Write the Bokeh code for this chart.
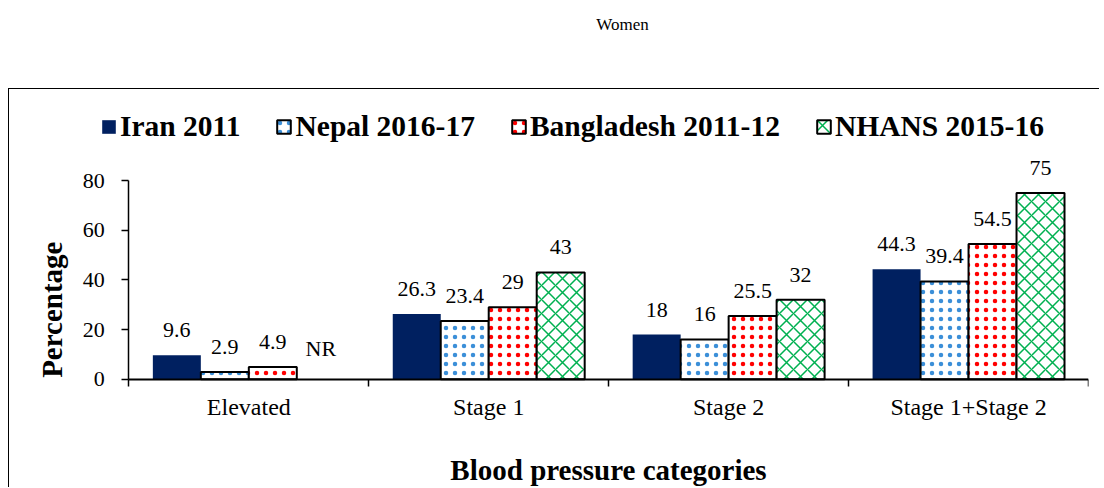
import math
from bokeh.plotting import figure
from bokeh.models import ColumnDataSource, Range1d, FixedTicker, Legend, LegendItem
from bokeh.layouts import column
from bokeh.core.properties import value
from bokeh.embed import file_html
from bokeh.resources import INLINE

# ---------------- data ----------------
categories = ["Elevated", "Stage 1", "Stage 2", "Stage 1+Stage 2"]
series = ["Iran 2011", "Nepal 2016-17", "Bangladesh 2011-12", "NHANS 2015-16"]
iran = [9.6, 26.3, 18, 44.3]
nepal = [2.9, 23.4, 16, 39.4]
bangladesh = [4.9, 29, 25.5, 54.5]
nhans = [None, 43, 32, 75]   # None = not reported (NR)
y_ticks = [0, 20, 40, 60, 80]
title_text = "Women"
x_title = "Blood pressure categories"
y_title = "Percentage"

SERIF = "Liberation Serif"

# ---------------- title strip ----------------
p0 = figure(width=1100, height=88, toolbar_location=None, output_backend="svg",
            x_range=Range1d(0, 1100), y_range=Range1d(0, 88), min_border=0)
p0.axis.visible = False
p0.grid.visible = False
p0.outline_line_color = None
p0.text(x=[625], y=[64], text=[title_text], text_align="center", text_baseline="middle",
        text_font=value(SERIF), text_font_size="17px", text_color="black")

# ---------------- main chart ----------------
p = figure(frame_width=1069, frame_height=387, toolbar_location=None, output_backend="svg",
           x_range=Range1d(-0.96, 3.5), y_range=Range1d(-44.06, 112.3),
           min_border_left=9, min_border_right=12, min_border_top=11, min_border_bottom=0,
           margin=(0, 0, 0, 8),
           styles={"border-top": "1px solid black", "border-left": "1px solid black"})
p.grid.visible = False
p.outline_line_color = None

data = [iran, nepal, bangladesh, nhans]
styles = [
    dict(fill_color="#002060", line_color=None),
    dict(fill_color="white", line_color="black", line_width=2, hatch_pattern="dot",
         hatch_color="#3b8fd8", hatch_scale=9, hatch_weight=1),
    dict(fill_color="white", line_color="black", line_width=2, hatch_pattern="dot",
         hatch_color="#ff0000", hatch_scale=9, hatch_weight=1),
    dict(fill_color="white", line_color="black", line_width=2, hatch_pattern="diagonal_cross",
         hatch_color="#00b050", hatch_scale=14, hatch_weight=1.5),
]
bw = 0.2
items = []
for k, (vals, st) in enumerate(zip(data, styles)):
    xs = [i + (k - 1.5) * bw for i in range(len(categories))]
    tops = [float("nan") if v is None else v for v in vals]
    ys = [0 if v is None else v for v in vals]
    labels = ["NR" if v is None else f"{v:g}" for v in vals]
    src = ColumnDataSource(dict(x=xs, top=tops, y=ys, label=labels))
    r = p.vbar(x="x", top="top", width=bw, bottom=0, source=src, **st)
    p.text(x="x", y="y", text="label", source=src, text_align="center", text_baseline="bottom",
           y_offset=-18, text_font=value(SERIF), text_font_size="22px", text_color="black")
    items.append(LegendItem(label=series[k], renderers=[r]))

# legend location is measured from the frame's bottom-left corner
legend = Legend(items=items, orientation="horizontal", location=(82, 345),
                label_text_font=SERIF, label_text_font_style="bold", label_text_font_size="29.5px",
                label_text_color="black",
                glyph_width=17, glyph_height=17, label_standoff=3, spacing=35, padding=0,
                margin=0, border_line_color=None, background_fill_alpha=0)
p.add_layout(legend, "center")

# y axis (fixed at the left edge of the categories)
yax = p.yaxis[0]
yax.fixed_location = -0.5
yax.ticker = FixedTicker(ticks=y_ticks)
yax.bounds = (0, 80)
yax.axis_line_width = 1.5
yax.axis_line_color = "black"
yax.major_tick_out = 7
yax.major_tick_in = 0
yax.minor_tick_out = 0
yax.minor_tick_in = 0
yax.major_tick_line_width = 1.5
yax.major_label_standoff = 17
yax.major_label_text_font = SERIF
yax.major_label_text_font_size = "22px"
yax.major_label_text_color = "black"

p.text(x=[-0.82], y=[28], text=[y_title], angle=math.pi / 2, text_align="center",
       text_baseline="middle", text_font=value(SERIF), text_font_style="bold",
       text_font_size="29px", text_color="black")

# x axis (fixed at y = 0)
xax = p.xaxis[0]
xax.fixed_location = 0
xax.bounds = (-0.5, 3.5)
xax.ticker = FixedTicker(ticks=[0, 1, 2, 3], minor_ticks=[-0.5, 0.5, 1.5, 2.5, 3.5])
xax.major_label_overrides = {i: c for i, c in enumerate(categories)}
xax.axis_line_width = 2
xax.axis_line_color = "black"
xax.major_tick_out = 0
xax.major_tick_in = 0
xax.minor_tick_out = 7
xax.minor_tick_in = 0
xax.minor_tick_line_width = 1.5
xax.major_label_standoff = 8
xax.major_label_text_font = SERIF
xax.major_label_text_font_size = "24px"
xax.major_label_text_color = "black"
xax.axis_label = x_title
xax.axis_label_text_font = SERIF
xax.axis_label_text_font_style = "bold"
xax.axis_label_text_font_size = "29px"
xax.axis_label_standoff = 30
xax.axis_label_text_color = "black"

layout = column(p0, p, spacing=0)
open("out.html", "w").write(file_html(layout, INLINE))
